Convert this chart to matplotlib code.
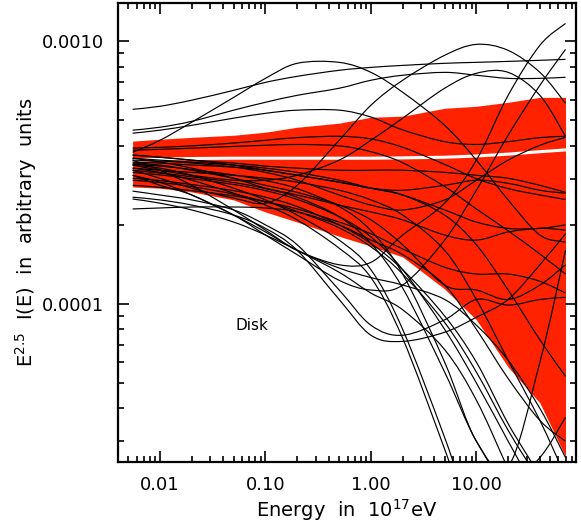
import numpy as np
import matplotlib
matplotlib.use("Agg")
from matplotlib import pyplot as plt
from matplotlib.path import Path
from matplotlib.patches import PathPatch
from matplotlib.ticker import FixedLocator, LogLocator, NullFormatter

energy = [0.0055, 0.01, 0.02, 0.05, 0.1, 0.2, 0.5, 1, 2, 5, 10, 20, 40, 70]

# red band and white mean line, units of 1e-4
band_hi = [4.17, 4.24, 4.31, 4.39, 4.51, 4.71, 4.88, 5.14, 5.19, 5.56, 5.66, 5.86, 6.12, 6.12]
band_lo = [2.79, 2.76, 2.67, 2.49, 2.24, 2.05, 1.81, 1.66, 1.51, 1.14, 0.87, 0.575, 0.42, 0.262]
mean_line = [3.52, 3.56, 3.58, 3.59, 3.59, 3.59, 3.59, 3.59, 3.60, 3.62, 3.66, 3.72, 3.80, 3.86]

# individual fits, units of 1e-4
u1 = [5.51, 5.66, 5.97, 6.51, 6.98, 7.36, 7.76, 7.96, 8.10, 8.25, 8.32, 8.39, 8.47, 8.54]
c5 = [4.59, 4.71, 4.96, 5.47, 5.86, 6.23, 6.63, 7.11, 7.43, 7.62, 7.43, 7.23, 7.23, 7.30]
u3 = [4.47, 4.59, 4.79, 5.10, 5.32, 5.47, 5.47, 5.15, 4.60, 4.15, 4.05, 4.15, 4.30, 4.35]
a1 = [3.78, 4.20, 4.92, 6.12, 7.23, 8.25, 8.32, 7.62, 6.40, 4.79, 3.53, 2.49, 1.83, 1.72]
c2 = [3.23, 3.01, 2.76, 2.53, 2.42, 2.83, 4.20, 5.71, 7.11, 8.85, 9.74, 9.24, 7.62, 5.81]
c3 = [3.38, 3.23, 3.09, 2.96, 2.96, 3.09, 3.53, 4.20, 5.10, 6.63, 7.56, 7.62, 6.23, 4.35]
c1 = [3.53, 3.23, 2.83, 2.28, 1.91, 1.60, 1.41, 1.44, 1.83, 2.42, 3.53, 6.23, 9.66, 11.7]
c4 = [3.09, 2.83, 2.60, 2.18, 1.83, 1.54, 1.23, 1.13, 1.18, 1.75, 2.71, 4.39, 6.80, 9.32]
l1 = [2.69, 2.60, 2.49, 2.28, 2.00, 1.68, 1.13, 0.83, 0.76, 0.87, 1.04, 0.99, 1.04, 1.06]
l2 = [2.55, 2.49, 2.38, 2.18, 1.94, 1.60, 1.04, 0.76, 0.72, 0.78, 0.89, 1.04, 1.41, 1.85]
l3 = [2.30, 2.32, 2.34, 2.34, 2.32, 2.24, 2.00, 1.75, 1.54, 1.18, 0.80, 0.52, 0.36, 0.30]
p1 = [3.38, 3.29, 3.09, 2.76, 2.49, 2.18, 1.75, 1.35, 0.80, 0.31, 0.14, 0.083, 0.049, 0.032]
p2 = [3.29, 3.17, 2.96, 2.64, 2.38, 2.09, 1.63, 1.26, 0.74, 0.28, 0.13, 0.076, 0.045, 0.029]
d1 = [2.51, 2.42, 2.28, 2.05, 1.83, 1.60, 1.32, 1.10, 0.95, 0.67, 0.43, 0.235, 0.128, 0.076]
d2 = [3.17, 3.10, 3.00, 2.85, 2.70, 2.50, 2.15, 1.80, 1.35, 0.80, 0.50, 0.30, 0.18, 0.11]
d3 = [3.01, 2.95, 2.85, 2.70, 2.55, 2.35, 2.00, 1.70, 1.35, 0.90, 0.60, 0.35, 0.22, 0.14]
b1 = [3.69, 3.62, 3.53, 3.44, 3.35, 3.29, 3.23, 3.23, 3.23, 3.17, 3.09, 3.01, 2.83, 2.66]
b2 = [3.59, 3.53, 3.47, 3.38, 3.29, 3.17, 2.96, 2.76, 2.60, 2.28, 2.05, 1.94, 1.94, 2.00]
b3 = [3.47, 3.44, 3.38, 3.32, 3.23, 3.09, 2.91, 2.76, 2.71, 2.83, 2.96, 2.88, 2.71, 2.64]
b4 = [3.53, 3.50, 3.44, 3.32, 3.17, 2.96, 2.60, 2.38, 2.28, 2.49, 2.96, 3.53, 4.02, 4.31]
b5 = [3.85, 3.88, 3.92, 3.98, 4.02, 4.05, 4.00, 3.80, 3.45, 2.80, 2.30, 1.90, 1.55, 1.30]
b6 = [3.29, 3.23, 3.17, 3.09, 3.01, 2.91, 2.71, 2.49, 2.18, 1.60, 1.04, 0.61, 0.36, 0.22]
b7 = [3.69, 3.62, 3.53, 3.38, 3.23, 3.09, 2.91, 2.76, 2.60, 2.18, 1.68, 1.13, 0.73, 0.53]
b8 = [3.44, 3.38, 3.23, 3.01, 2.83, 2.66, 2.38, 2.09, 1.68, 1.18, 1.13, 1.04, 1.18, 1.41]
r1 = [3.23, 3.15, 3.05, 2.90, 2.75, 2.55, 2.15, 1.70, 1.15, 0.55, 0.30, 0.21, 0.26, 0.37]
r2 = [3.40, 3.35, 3.25, 3.10, 2.95, 2.75, 2.35, 1.90, 1.30, 0.60, 0.30, 0.24, 0.60, 1.60]
b10 = [3.92, 3.95, 4.00, 4.10, 4.20, 4.30, 4.35, 4.25, 3.95, 3.40, 3.00, 2.75, 2.60, 2.50]
e1 = [2.96, 2.90, 2.80, 2.62, 2.45, 2.25, 1.95, 1.65, 1.30, 0.85, 0.55, 0.33, 0.21, 0.14]
e2 = [2.83, 2.78, 2.70, 2.58, 2.45, 2.30, 2.05, 1.85, 1.62, 1.38, 1.30, 1.30, 1.22, 1.10]
l4 = [3.09, 2.91, 2.60, 2.18, 1.88, 1.60, 1.37, 1.26, 1.18, 1.04, 0.83, 0.61, 0.40, 0.26]
s1 = [3.59, 3.47, 3.29, 3.01, 2.76, 2.60, 2.38, 2.24, 2.09, 1.83, 1.75, 1.88, 1.94, 1.91]

curves = [u1, c5, u3, a1, c2, c3, c1, c4, l1, l2, l3, p1, p2, d1, d2, d3,
          b1, b2, b3, b4, b5, b6, b7, b8, r1, r2, b10, e1, e2, l4, s1]

scale = 1e-4


def smooth_path(xs, ys):
    # Catmull-Rom through the read points, drawn as cubic Beziers in log-log space
    pts = np.column_stack([np.log10(xs), np.log10(ys)])
    n = len(pts)
    verts = [pts[0]]
    codes = [Path.MOVETO]
    for i in range(n - 1):
        p0 = pts[max(i - 1, 0)]
        p1_ = pts[i]
        p2_ = pts[i + 1]
        p3 = pts[min(i + 2, n - 1)]
        verts += [p1_ + (p2_ - p0) / 6, p2_ - (p3 - p1_) / 6, p2_]
        codes += [Path.CURVE4] * 3
    return Path(10 ** np.array(verts), codes)


fig = plt.figure(figsize=(5.81, 5.27), dpi=100)
ax = fig.add_axes([0.2031, 0.1233, 0.7883, 0.8710])

x = np.array(energy)
ax.fill_between(x, np.array(band_lo) * scale, np.array(band_hi) * scale,
                color='#ff2200', lw=0, zorder=1)
ax.plot(x, np.array(mean_line) * scale, color='white', lw=2.2, zorder=2)
for c in curves:
    ax.add_patch(PathPatch(smooth_path(x, np.array(c) * scale), fill=False,
                           edgecolor='black', lw=0.85, zorder=3))

ax.set_xscale('log')
ax.set_yscale('log')
ax.set_xlim(0.004, 88)
ax.set_ylim(2.5e-5, 1.4e-3)

ax.xaxis.set_major_locator(FixedLocator([0.01, 0.1, 1, 10]))
ax.set_xticklabels(['0.01', '0.10', '1.00', '10.00'])
ax.xaxis.set_minor_locator(LogLocator(base=10, subs=np.arange(2, 10)))
ax.xaxis.set_minor_formatter(NullFormatter())
ax.yaxis.set_major_locator(FixedLocator([1e-4, 1e-3]))
ax.set_yticklabels(['0.0001', '0.0010'])
ax.yaxis.set_minor_locator(LogLocator(base=10, subs=np.arange(2, 10)))
ax.yaxis.set_minor_formatter(NullFormatter())

ax.tick_params(which='both', direction='in', top=True, right=True, width=1.2,
               labelsize=13, colors='black')
ax.tick_params(which='major', length=8, pad=10)
ax.tick_params(which='minor', length=4)
for s in ax.spines.values():
    s.set_linewidth(1.6)

ax.set_xlabel('Energy  in  10$^{17}$eV', fontsize=14, labelpad=2)
ax.set_ylabel('E$^{2.5}$  I(E)  in  arbitrary  units', fontsize=14, labelpad=2)
ax.text(0.052, 0.83e-4, 'Disk', fontsize=11, va='center', ha='left')

fig.savefig('out.png', dpi=100)
